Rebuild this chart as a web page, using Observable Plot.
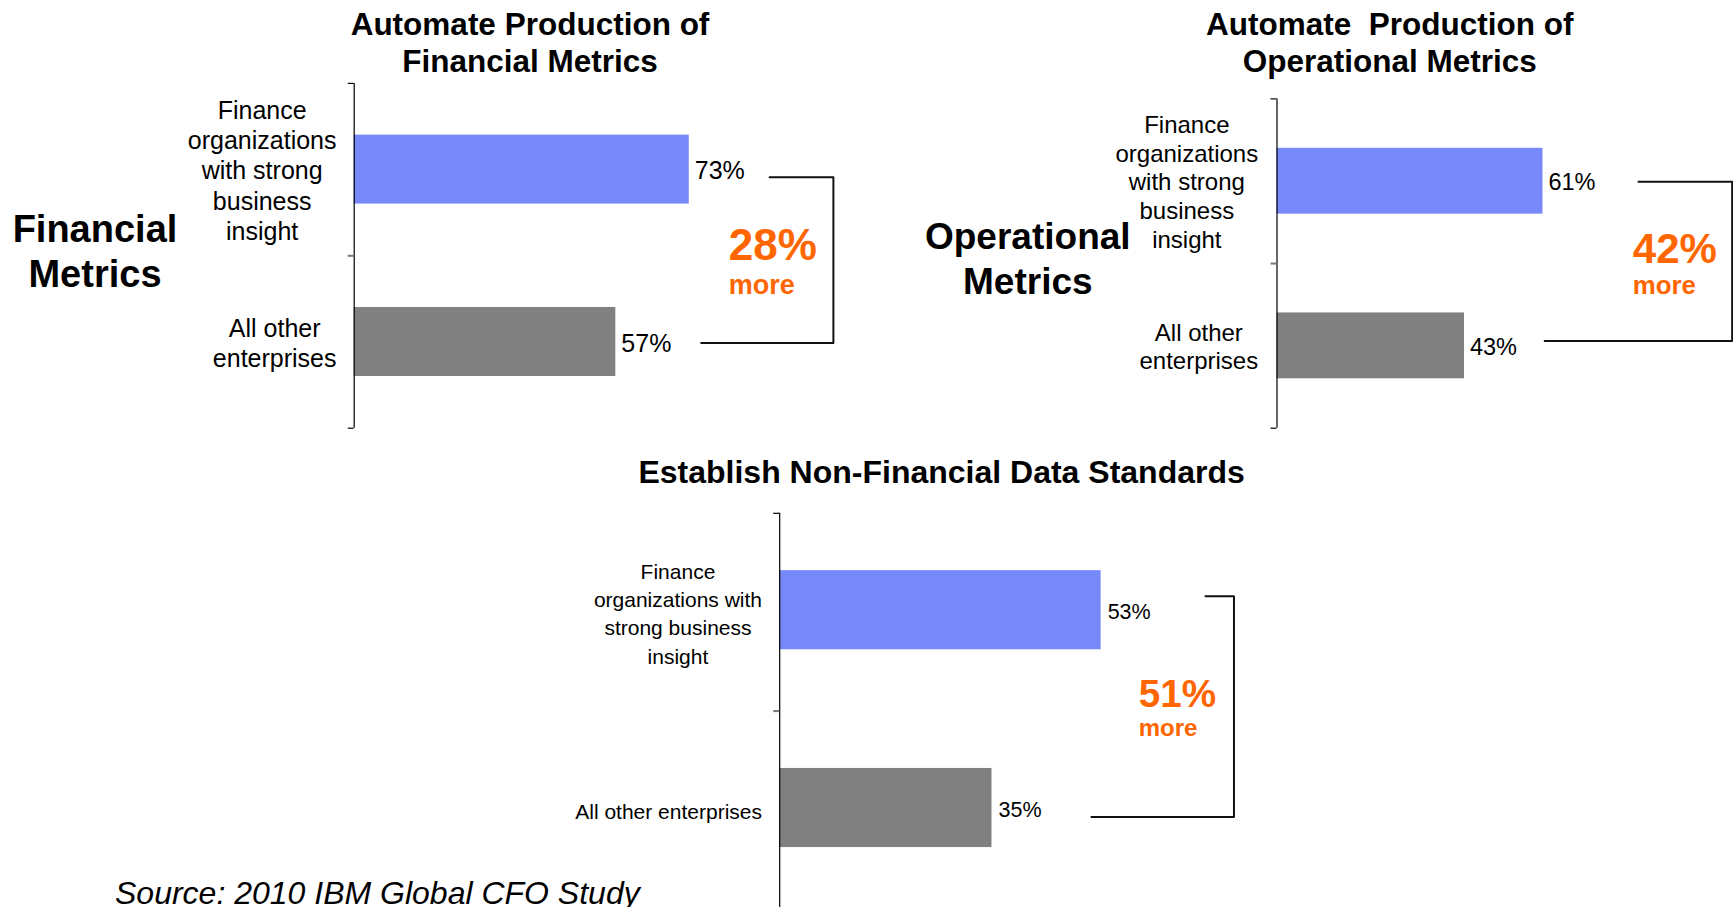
<!DOCTYPE html>
<html>
<head>
<meta charset="utf-8">
<script src="https://cdn.jsdelivr.net/npm/d3@7"></script>
<script src="https://cdn.jsdelivr.net/npm/@observablehq/plot@0.6"></script>
<style>
  html, body { margin: 0; padding: 0; background: #fff; overflow: hidden; }
  #page { position: relative; width: 1733px; height: 907px; overflow: hidden; background: #fff;
          font-family: "Liberation Sans", Arial, sans-serif; color: #000; }
  .layer { position: absolute; left: 0; top: 0; }
  .txt { position: absolute; transform: translate(-50%, -50%); text-align: center; white-space: pre; }
</style>
</head>
<body>
<div id="page"></div>
<script>
// ---------- DATA ----------
const groups = ["strong", "other"];
const labels1 = ["Finance\norganizations\nwith strong\nbusiness\ninsight", "All other\nenterprises"];
const labels2 = ["Finance\norganizations\nwith strong\nbusiness\ninsight", "All other\nenterprises"];
const labels3 = ["Finance\norganizations with\nstrong business\ninsight", "All other enterprises"];
const values1 = [73, 57];
const values2 = [61, 43];
const values3 = [53, 35];
const diffs = [28, 42, 51];
const diffWord = "more";
const titles = ["Automate Production of\nFinancial Metrics", "Automate  Production of\nOperational Metrics", "Establish Non-Financial Data Standards"];
const sideLabels = ["Financial\nMetrics", "Operational\nMetrics"];
const sourceText = "Source: 2010 IBM Global CFO Study";

// ---------- STYLE / LAYOUT ----------
const FONT = '"Liberation Sans", Arial, sans-serif';
const BLUE = "#7788f8", GREY = "#808080", ORANGE = "#ff6600";
const W = 1733, H = 912;

const panels = [
  { labels: labels1, values: values1, diff: diffs[0],
    left: 353.7, pxPer: 4.59, top: 82.9, bottom: 427.7, inset: [0.3, 0.7],
    catFont: 25, catLH: 30.4, gap: 17.7, valFont: 25, valDx: 5.5, valDy: 1.5,
    br: { yTop: 0.545, yBot: 1.506, xTop: 90.5, xRight: 104.4, xBot: 75.6 },
    ann: { x: 81.6, y1: 0.942, y2: 1.173, f1: 44, f2: 27 } },
  { labels: labels2, values: values2, diff: diffs[1],
    left: 1276.5, pxPer: 4.36, top: 98.4, bottom: 427.7, inset: [0.3, 0.7],
    catFont: 24, catLH: 28.7, gap: 18.8, valFont: 23.5, valDx: 5.5, valDy: 1.5,
    br: { yTop: 0.503, yBot: 1.470, xTop: 82.9, xRight: 104.4, xBot: 61.4 },
    ann: { x: 81.6, y1: 0.913, y2: 1.134, f1: 42, f2: 25.8 } },
  { labels: labels3, values: values3, diff: diffs[2],
    left: 779.2, pxPer: 6.065, top: 512.8, bottom: 908.4, inset: [0.29, 0.69],
    catFont: 21, catLH: 28.4, gap: 17.7, valFont: 21.5, valDx: 6.5, valDy: 0,
    br: { yTop: 0.419, yBot: 1.536, xTop: 70.2, xRight: 74.9, xBot: 51.4 },
    ann: { x: 59.2, y1: 0.916, y2: 1.089, f1: 38.7, f2: 24 } }
];

const ctx = document.createElement("canvas").getContext("2d");
function maxLineWidth(text, size) {
  ctx.font = `${size}px ${FONT}`;
  return d3.max(text.split("\n"), l => ctx.measureText(l).width);
}

const page = document.getElementById("page");

panels.forEach(p => {
  const data = groups.map((g, i) => ({ group: g, i, value: p.values[i], label: p.labels[i] }));
  const xEnd = p.left + 100 * p.pxPer;
  const bracket = [
    { x: p.br.xTop, y: p.br.yTop },
    { x: p.br.xRight, y: p.br.yTop },
    { x: p.br.xRight, y: p.br.yBot },
    { x: p.br.xBot, y: p.br.yBot }
  ];
  const labelMarks = data.map(d => Plot.text([d], {
    frameAnchor: "left", y: d => d.i + 0.5, text: "label",
    dx: -(p.gap + maxLineWidth(d.label, p.catFont) / 2),
    textAnchor: "middle", lineAnchor: "middle",
    fontSize: p.catFont, lineHeight: p.catLH / p.catFont, fill: "#000"
  }));
  const chart = Plot.plot({
    width: W, height: H,
    marginLeft: p.left, marginRight: W - xEnd,
    marginTop: p.top, marginBottom: H - p.bottom,
    x: { domain: [0, 100], axis: null },
    y: { domain: [0, 2], reverse: true, axis: null },
    color: { domain: groups, range: [BLUE, GREY] },
    style: { background: "transparent", fontFamily: FONT, overflow: "visible" },
    marks: [
      Plot.rectX(data, { x1: 0, x2: "value", y1: d => d.i + p.inset[0], y2: d => d.i + p.inset[1], fill: "group" }),
      Plot.ruleX([0], { stroke: "#000", strokeWidth: 1.2 }),
      Plot.axisY({ ticks: [0, 2], tickSize: 6, tickFormat: () => "", label: null, stroke: "#000", strokeWidth: 1.2 }),
      Plot.axisY({ ticks: [1], tickSize: 6, tickFormat: () => "", label: null, stroke: "#777", strokeWidth: 2 }),
      Plot.text(data, { x: "value", y: d => d.i + 0.5, text: d => `${d.value}%`, textAnchor: "start",
        dx: p.valDx, dy: p.valDy, fontSize: p.valFont, fill: "#000" }),
      ...labelMarks,
      Plot.line(bracket, { x: "x", y: "y", stroke: "#111", strokeWidth: 2, curve: "linear" }),
      Plot.text([p.diff], { x: p.ann.x, y: p.ann.y1, text: d => `${d}%`, textAnchor: "start",
        fill: ORANGE, fontWeight: "bold", fontSize: p.ann.f1 }),
      Plot.text([diffWord], { x: p.ann.x, y: p.ann.y2, text: d => d, textAnchor: "start",
        fill: ORANGE, fontWeight: "bold", fontSize: p.ann.f2 })
    ]
  });
  chart.classList.add("layer");
  page.appendChild(chart);
});

// ---------- TITLES / LABELS (HTML) ----------
function addText(text, cx, cy, size, lh, extra = "") {
  const d = document.createElement("div");
  d.className = "txt";
  d.textContent = text;
  d.style.cssText = `left:${cx}px;top:${cy}px;font-size:${size}px;line-height:${lh}px;${extra}`;
  page.appendChild(d);
  return d;
}
addText(titles[0], 530, 43.8, 31.5, 37.6, "font-weight:bold;");
addText(titles[1], 1389.8, 43.8, 31.5, 37.6, "font-weight:bold;");
addText(titles[2], 941.6, 471.9, 32, 38, "font-weight:bold;");
addText(sideLabels[0], 95, 252, 38, 45.3, "font-weight:bold;");
addText(sideLabels[1], 1027.8, 258.5, 37, 45.3, "font-weight:bold;");
const src = addText(sourceText, 0, 893, 32, 36, "font-style:italic;transform:translate(0,-50%);text-align:left;");
src.style.left = "115px";
</script>
</body>
</html>
